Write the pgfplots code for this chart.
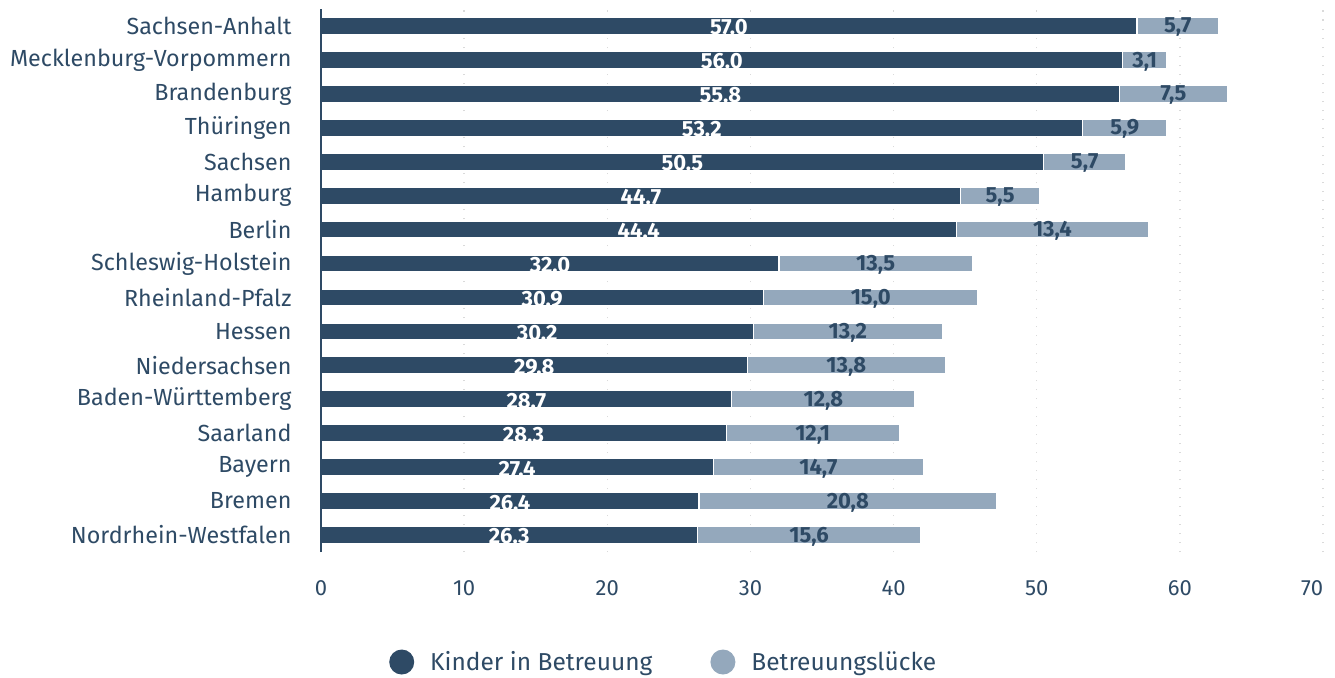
\documentclass[border=0pt]{standalone}
\usepackage{pgfplots}
\pgfplotsset{compat=1.18}
\usepackage{pgfplotstable}
\usepackage{fontspec}
\setmainfont{Fira Sans}
\definecolor{dark}{RGB}{46,74,101}
\definecolor{light}{RGB}{148,168,188}
\definecolor{gridc}{RGB}{218,218,218}
\pgfplotstableread{
idx kid gap
15 57.0 5.7
14 56.0 3.1
13 55.8 7.5
12 53.2 5.9
11 50.5 5.7
10 44.7 5.5
9 44.4 13.4
8 32.0 13.5
7 30.9 15.0
6 30.2 13.2
5 29.8 13.8
4 28.7 12.8
3 28.3 12.1
2 27.4 14.7
1 26.4 20.8
0 26.3 15.6
}\data
\begin{document}
\begin{tikzpicture}
\path[use as bounding box] (0pt,0pt) rectangle (1335pt,-677pt);
\begin{axis}[
  at={(321pt,-552pt)}, anchor=south west,
  scale only axis, width=1002pt, height=543pt,
  xbar stacked, bar width=17pt,
  xmin=0, xmax=70, ymin=-0.5, ymax=15.5,
  clip=false,
  ytick={0,...,15},
  yticklabels={Nordrhein-Westfalen,Bremen,Bayern,Saarland,Baden-Württemberg,Niedersachsen,Hessen,Rheinland-Pfalz,Schleswig-Holstein,Berlin,Hamburg,Sachsen,Thüringen,Brandenburg,Mecklenburg-Vorpommern,Sachsen-Anhalt},
  xtick={0,10,...,70},
  xticklabels={0,10,20,30,40,50,60,\makebox[0pt][r]{70}},
  major tick length=0pt,
  axis y line*=left, axis x line*=bottom,
  x axis line style={draw=none},
  y axis line style={draw=none},
  xmajorgrids,
  major x grid style={gridc, line width=1.5pt, dash pattern=on 1.5pt off 7.5pt},
  yticklabel style={font=\fontsize{23.3}{26}\selectfont, text=dark, xshift=-26pt},
  xticklabel style={font=\fontsize{22}{26}\selectfont, text=dark, yshift=-25pt},
  /pgf/number format/assume math mode=true,
  legend style={at={(axis description cs:0.0679,-0.2026)}, anchor=west, draw=none, fill=none, inner sep=0pt,
    legend columns=2, font=\fontsize{24.5}{28}\selectfont, text=dark,
    /tikz/every odd column/.append style={column sep=14pt},
    /tikz/every even column/.append style={column sep=56pt}},
  legend image code/.code={\fill[#1, draw=none] (0pt,0pt) circle (12.5pt);},
  after end axis/.code={\draw[dark, line width=2pt] (rel axis cs:0,0) -- (rel axis cs:0,1);},
]
\addplot[fill=dark, draw=white, line width=1.2pt,
  point meta=explicit,
  nodes near coords={\pgfmathprintnumber[fixed, fixed zerofill, precision=1]{\pgfplotspointmeta}},
  nodes near coords style={anchor=center, yshift=-1.5pt,
    font=\fontsize{22}{26}\selectfont\bfseries, text=white}]
  table[x=kid, y=idx, meta=kid] {\data};
\addlegendentry{Kinder in Betreuung}
\addplot[fill=light, draw=white, line width=1.2pt,
  point meta=explicit,
  nodes near coords={\pgfmathprintnumber[fixed, fixed zerofill, precision=1, use comma]{\pgfplotspointmeta}},
  nodes near coords style={anchor=center, yshift=-1.5pt,
    font=\fontsize{22}{26}\selectfont\bfseries, text=dark}]
  table[x=gap, y=idx, meta=gap] {\data};
\addlegendentry{Betreuungslücke}
\end{axis}
\end{tikzpicture}
\end{document}
